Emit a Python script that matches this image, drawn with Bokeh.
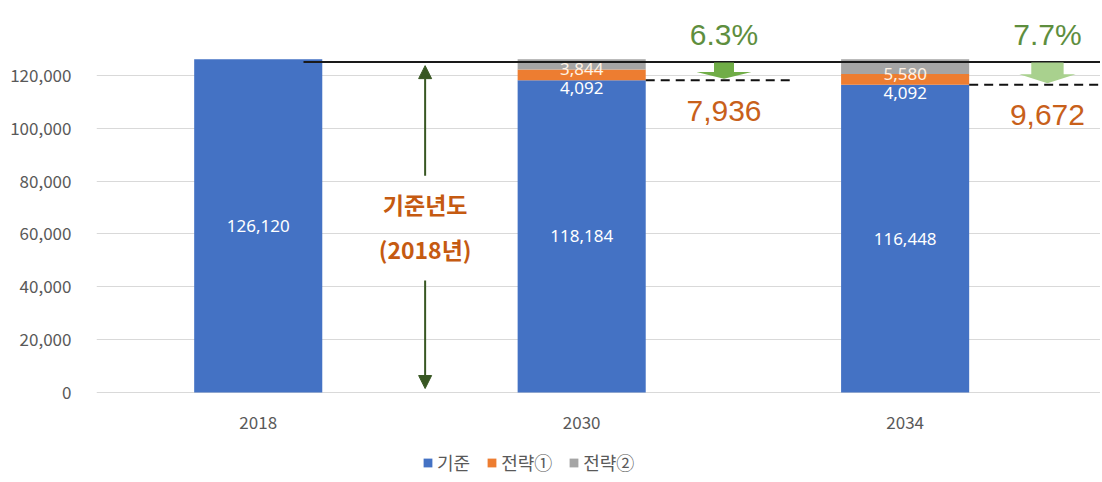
from bokeh.plotting import figure
from bokeh.models import (ColumnDataSource, Range1d, FixedTicker, Legend, LegendItem,
                          Arrow, NormalHead, NumeralTickFormatter)
from bokeh.core.properties import value
from bokeh.embed import file_html
from bokeh.resources import INLINE

years = ["2018", "2030", "2034"]
base = [126120, 118184, 116448]
strat1 = [0, 4092, 4092]
strat2 = [0, 3844, 5580]
reduction = ["", "7,936", "9,672"]
reduction_pct = ["", "6.3%", "7.7%"]
series_names = ["기준", "전략①", "전략②"]
y_ticks = [0, 20000, 40000, 60000, 80000, 100000, 120000]
note_lines = ["기준년도", "(2018년)"]

BLUE, ORANGE, GRAY = "#4472C4", "#ED7D31", "#A5A5A5"
TXT = "#595959"
KRS = "Noto Sans CJK KR"
KR = value(KRS)

xs = list(range(len(years)))
bar_w = 0.396
X_END = 2.604

p = figure(width=1100, height=480, x_range=Range1d(-0.5, X_END), y_range=Range1d(-33308, 148372),
           output_backend="svg", toolbar_location=None,
           min_border_left=96, min_border_right=0, min_border_top=0, min_border_bottom=0)
p.outline_line_color = None
p.xgrid.visible = False
p.xaxis.visible = False
p.ygrid.grid_line_color = "#D9D9D9"
p.ygrid.ticker = FixedTicker(ticks=y_ticks)

p.yaxis.ticker = FixedTicker(ticks=y_ticks)
p.yaxis.formatter = NumeralTickFormatter(format="0,0")
p.yaxis.axis_line_color = None
p.yaxis.major_tick_line_color = None
p.yaxis.minor_tick_line_color = None
p.yaxis.major_label_text_color = TXT
p.yaxis.major_label_text_font = KRS
p.yaxis.major_label_text_font_size = "17px"
p.yaxis.major_label_standoff = 19

# category labels under the bars
p.text(x=xs, y=[-11300] * len(xs), text=years, text_color=TXT, text_align="center",
       text_baseline="middle", text_font=KR, text_font_size="17px")

src = ColumnDataSource(dict(x=xs, base=base, s1=strat1, s2=strat2))
rs = p.vbar_stack(["base", "s1", "s2"], x="x", width=bar_w, color=[BLUE, ORANGE, GRAY],
                  line_color=None, source=src)

# value labels
lab_x, lab_y, lab_t, lab_c = [], [], [], []
for i in xs:
    lab_x.append(i); lab_y.append(base[i] / 2); lab_t.append(f"{base[i]:,}"); lab_c.append("#FFFFFF")
    if strat1[i]:
        lab_x.append(i); lab_y.append(base[i] - 2900); lab_t.append(f"{strat1[i]:,}"); lab_c.append("#FFFFFF")
    if strat2[i]:
        lab_x.append(i); lab_y.append(base[i] + strat1[i] + 200); lab_t.append(f"{strat2[i]:,}"); lab_c.append("#FFF3E6")
p.text(x=lab_x, y=lab_y, text=lab_t, text_color=lab_c, text_align="center", text_baseline="middle",
       text_font=value("Noto Sans"), text_font_size="17px")

# baseline reference line
total0 = base[0] + strat1[0] + strat2[0]
p.segment(x0=[0.14], y0=[total0 - 1000], x1=[X_END], y1=[total0 - 1000], line_color="#1A1A1A", line_width=2)

# dashed lines at base level and block arrows
dash_end = [None, 1.645, X_END]
arrow_cols = [None, "#70AD47", "#A9D18E"]
shaft_hw = [0, 0.031, 0.05]
head_hw = [0, 0.085, 0.087]
for i in xs[1:]:
    p.segment(x0=[i + bar_w / 2], y0=[base[i]], x1=[dash_end[i]], y1=[base[i]],
              line_color="#111111", line_width=2, line_dash="9 6")
    cx = i + 0.44
    top = total0 - 1200
    tip = base[i] + 600
    mid = (top + tip) / 2 - 500
    px = [cx - shaft_hw[i], cx + shaft_hw[i], cx + shaft_hw[i], cx + head_hw[i], cx,
          cx - head_hw[i], cx - shaft_hw[i]]
    py = [top, top, mid, mid, tip, mid, mid]
    p.patch(px, py, fill_color=arrow_cols[i], line_color=None)

ann_x = [i + 0.44 for i in xs[1:]]
p.text(x=ann_x, y=[total0 + 9400] * 2, text=reduction_pct[1:], text_color="#5E8E3E",
       text_align="center", text_baseline="middle", text_font=value("Liberation Sans"),
       text_font_size="30px")
p.text(x=ann_x, y=[base[i] - 11500 for i in xs[1:]], text=reduction[1:], text_color="#C8601A",
       text_align="center", text_baseline="middle", text_font=value("Liberation Sans"),
       text_font_size="30px")

# base-year double arrow with note
ax_x = 0.516
DG = "#385723"
p.add_layout(Arrow(x_start=ax_x, y_start=82000, x_end=ax_x, y_end=total0 - 2400, line_color=DG, line_width=2,
                   end=NormalHead(size=13, fill_color=DG, line_color=DG)))
p.add_layout(Arrow(x_start=ax_x, y_start=42400, x_end=ax_x, y_end=1500, line_color=DG, line_width=2,
                   end=NormalHead(size=13, fill_color=DG, line_color=DG)))
p.text(x=[ax_x, ax_x], y=[71200, 54500], text=note_lines, text_color="#C55A11", text_align="center",
       text_baseline="middle", text_font=KR, text_font_size="23px", text_font_style="bold")

legend = Legend(items=[LegendItem(label=n, renderers=[r]) for n, r in zip(series_names, rs)],
                orientation="horizontal", location=(326, 5), border_line_color=None,
                background_fill_alpha=0, glyph_width=11, glyph_height=11, label_standoff=4,
                spacing=16, padding=0, margin=0, label_text_font=KRS, label_text_font_size="18px",
                label_text_color=TXT)
p.add_layout(legend)

open("out.html", "w").write(file_html(p, INLINE))
